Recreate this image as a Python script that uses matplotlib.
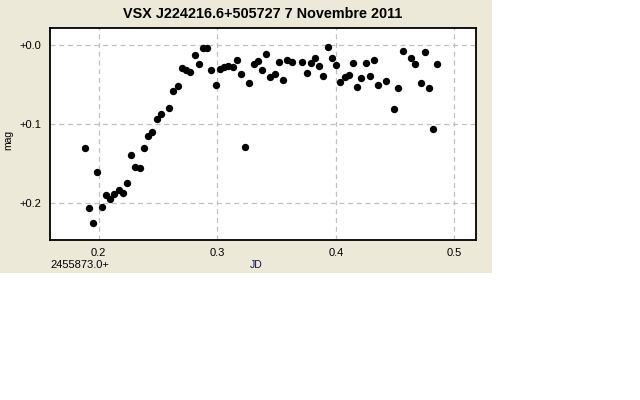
import matplotlib
matplotlib.use('Agg')
import matplotlib.pyplot as plt
from matplotlib.patches import Rectangle

plt.rcParams['font.family'] = ['Liberation Sans', 'DejaVu Sans']

# JD - 2455873.0 and magnitude offset
jd = [0.1887, 0.1921, 0.1954, 0.1988, 0.2030, 0.2064, 0.2098, 0.2132, 0.2174, 0.2208,
      0.2241, 0.2275, 0.2309, 0.2351, 0.2385, 0.2419, 0.2452, 0.2495, 0.2528, 0.2596,
      0.2630, 0.2672, 0.2705, 0.2739, 0.2773, 0.2815, 0.2849, 0.2883, 0.2916, 0.2950,
      0.2992, 0.3026, 0.3060, 0.3094, 0.3136, 0.3170, 0.3203, 0.3237, 0.3271, 0.3313,
      0.3347, 0.3381, 0.3414, 0.3448, 0.3490, 0.3524, 0.3558, 0.3592, 0.3634, 0.3718,
      0.3760, 0.3794, 0.3828, 0.3862, 0.3895, 0.3938, 0.3971, 0.4005, 0.4039, 0.4081,
      0.4115, 0.4149, 0.4182, 0.4216, 0.4258, 0.4292, 0.4326, 0.4359, 0.4427, 0.4495,
      0.4528, 0.4570, 0.4638, 0.4672, 0.4722, 0.4756, 0.4790, 0.4824, 0.4857]
mag = [0.1303, 0.2065, 0.2255, 0.1608, 0.2052, 0.1900, 0.1951, 0.1887, 0.1836, 0.1874,
       0.1747, 0.1392, 0.1544, 0.1557, 0.1303, 0.1151, 0.1100, 0.0935, 0.0872, 0.0796,
       0.0580, 0.0516, 0.0288, 0.0313, 0.0339, 0.0123, 0.0237, 0.0034, 0.0034, 0.0313,
       0.0504, 0.0301, 0.0275, 0.0263, 0.0275, 0.0187, 0.0364, 0.1291, 0.0478, 0.0237,
       0.0199, 0.0313, 0.0110, 0.0402, 0.0364, 0.0212, 0.0440, 0.0187, 0.0212, 0.0212,
       0.0352, 0.0225, 0.0161, 0.0263, 0.0390, 0.0022, 0.0161, 0.0250, 0.0466, 0.0402,
       0.0377, 0.0225, 0.0529, 0.0415, 0.0225, 0.0390, 0.0187, 0.0504, 0.0453, 0.0808,
       0.0542, 0.0072, 0.0161, 0.0237, 0.0478, 0.0085, 0.0542, 0.1062, 0.0237]

xticks = [0.2, 0.3, 0.4, 0.5]
yticks = [0.0, 0.1, 0.2]
ylabels = ['+0.0', '+0.1', '+0.2']

bg = '#ece9d8'

fig = plt.figure(figsize=(6.4, 4.0), dpi=100, facecolor='white')
fig.patches.append(Rectangle((0, 127 / 400), 492 / 640, 273 / 400,
                             transform=fig.transFigure, facecolor=bg,
                             edgecolor='none', zorder=-10))

ax = fig.add_axes([50 / 640, 0.4, 426 / 640, 0.53])
ax.plot(jd, mag, 'o', color='black', markersize=5.3, markeredgewidth=0)

ax.set_xlim(0.1589, 0.5183)
ax.set_ylim(0.2473, -0.0216)
ax.set_xticks(xticks)
ax.set_xticklabels(['0.2', '0.3', '0.4', '0.5'])
ax.set_yticks(yticks)
ax.set_yticklabels(ylabels)
ax.tick_params(length=0, labelsize=8, pad=6)
ax.grid(True, color='#c0c0c0', linestyle=(0, (4, 3)), linewidth=0.9)
for s in ax.spines.values():
    s.set_linewidth(1.3)

fig.text(263 / 640, 1 - 14 / 400, 'VSX J224216.6+505727 7 Novembre 2011',
         ha='center', va='center', fontsize=10.4, fontweight='bold')
fig.text(8 / 640, 1 - 140 / 400, 'mag', rotation=90, ha='center', va='center', fontsize=7.5)
fig.text(256 / 640, 1 - 265 / 400, 'JD', ha='center', va='center', fontsize=7.5, color='#10104a')
fig.text(50 / 640, 1 - 265 / 400, '2455873.0+', ha='left', va='center', fontsize=8)

fig.savefig('out.png', dpi=100, facecolor='white')
